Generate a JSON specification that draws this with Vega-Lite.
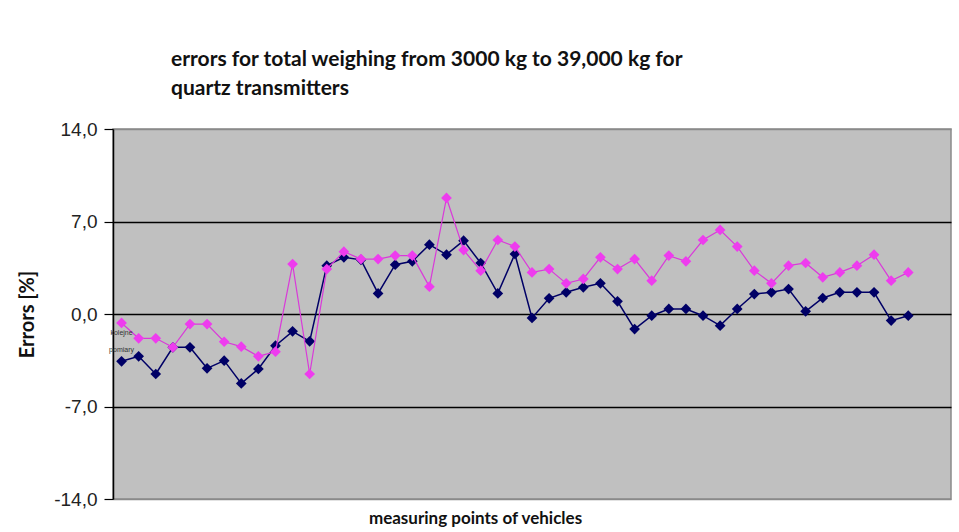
{
  "$schema": "https://vega.github.io/schema/vega-lite/v6.json",
  "width": 838,
  "height": 370,
  "autosize": {"type": "none"},
  "padding": {"left": 113, "top": 129, "right": 8, "bottom": 33},
  "background": "white",
  "title": {
    "text": ["errors for total weighing from 3000 kg to 39,000 kg for", "quartz transmitters"],
    "anchor": "start",
    "frame": "group",
    "font": "Lato",
    "fontWeight": "bold",
    "fontSize": 21,
    "lineHeight": 29,
    "color": "#111",
    "dx": 58,
    "offset": 21
  },
  "config": {
    "view": {"fill": "#c0c0c0", "stroke": "#8a8a8a", "strokeWidth": 1.5}
  },
  "datasets": {
    "pts": [
      {"i": 1, "s": "navy", "v": -3.58}, {"i": 2, "s": "navy", "v": -3.2}, {"i": 3, "s": "navy", "v": -4.54},
      {"i": 4, "s": "navy", "v": -2.52}, {"i": 5, "s": "navy", "v": -2.52}, {"i": 6, "s": "navy", "v": -4.11},
      {"i": 7, "s": "navy", "v": -3.53}, {"i": 8, "s": "navy", "v": -5.25}, {"i": 9, "s": "navy", "v": -4.16},
      {"i": 10, "s": "navy", "v": -2.4}, {"i": 11, "s": "navy", "v": -1.31}, {"i": 12, "s": "navy", "v": -2.07},
      {"i": 13, "s": "navy", "v": 3.66}, {"i": 14, "s": "navy", "v": 4.29}, {"i": 15, "s": "navy", "v": 4.1},
      {"i": 16, "s": "navy", "v": 1.56}, {"i": 17, "s": "navy", "v": 3.73}, {"i": 18, "s": "navy", "v": 3.99},
      {"i": 19, "s": "navy", "v": 5.25}, {"i": 20, "s": "navy", "v": 4.49}, {"i": 21, "s": "navy", "v": 5.55},
      {"i": 22, "s": "navy", "v": 3.86}, {"i": 23, "s": "navy", "v": 1.56}, {"i": 24, "s": "navy", "v": 4.54},
      {"i": 25, "s": "navy", "v": -0.3}, {"i": 26, "s": "navy", "v": 1.19}, {"i": 27, "s": "navy", "v": 1.64},
      {"i": 28, "s": "navy", "v": 2.02}, {"i": 29, "s": "navy", "v": 2.32}, {"i": 30, "s": "navy", "v": 0.96},
      {"i": 31, "s": "navy", "v": -1.14}, {"i": 32, "s": "navy", "v": -0.13}, {"i": 33, "s": "navy", "v": 0.38},
      {"i": 34, "s": "navy", "v": 0.38}, {"i": 35, "s": "navy", "v": -0.13}, {"i": 36, "s": "navy", "v": -0.88},
      {"i": 37, "s": "navy", "v": 0.38}, {"i": 38, "s": "navy", "v": 1.51}, {"i": 39, "s": "navy", "v": 1.64},
      {"i": 40, "s": "navy", "v": 1.89}, {"i": 41, "s": "navy", "v": 0.2}, {"i": 42, "s": "navy", "v": 1.21},
      {"i": 43, "s": "navy", "v": 1.64}, {"i": 44, "s": "navy", "v": 1.64}, {"i": 45, "s": "navy", "v": 1.64},
      {"i": 46, "s": "navy", "v": -0.5}, {"i": 47, "s": "navy", "v": -0.13},
      {"i": 1, "s": "magenta", "v": -0.68}, {"i": 2, "s": "magenta", "v": -1.84}, {"i": 3, "s": "magenta", "v": -1.84},
      {"i": 4, "s": "magenta", "v": -2.52}, {"i": 5, "s": "magenta", "v": -0.76}, {"i": 6, "s": "magenta", "v": -0.76},
      {"i": 7, "s": "magenta", "v": -2.1}, {"i": 8, "s": "magenta", "v": -2.47}, {"i": 9, "s": "magenta", "v": -3.2},
      {"i": 10, "s": "magenta", "v": -2.85}, {"i": 11, "s": "magenta", "v": 3.78}, {"i": 12, "s": "magenta", "v": -4.54},
      {"i": 13, "s": "magenta", "v": 3.4}, {"i": 14, "s": "magenta", "v": 4.72}, {"i": 15, "s": "magenta", "v": 4.16},
      {"i": 16, "s": "magenta", "v": 4.16}, {"i": 17, "s": "magenta", "v": 4.42}, {"i": 18, "s": "magenta", "v": 4.42},
      {"i": 19, "s": "magenta", "v": 2.07}, {"i": 20, "s": "magenta", "v": 8.78}, {"i": 21, "s": "magenta", "v": 4.84},
      {"i": 22, "s": "magenta", "v": 3.28}, {"i": 23, "s": "magenta", "v": 5.6}, {"i": 24, "s": "magenta", "v": 5.1},
      {"i": 25, "s": "magenta", "v": 3.15}, {"i": 26, "s": "magenta", "v": 3.4}, {"i": 27, "s": "magenta", "v": 2.32},
      {"i": 28, "s": "magenta", "v": 2.65}, {"i": 29, "s": "magenta", "v": 4.29}, {"i": 30, "s": "magenta", "v": 3.4},
      {"i": 31, "s": "magenta", "v": 4.16}, {"i": 32, "s": "magenta", "v": 2.52}, {"i": 33, "s": "magenta", "v": 4.42},
      {"i": 34, "s": "magenta", "v": 3.99}, {"i": 35, "s": "magenta", "v": 5.6}, {"i": 36, "s": "magenta", "v": 6.36},
      {"i": 37, "s": "magenta", "v": 5.1}, {"i": 38, "s": "magenta", "v": 3.28}, {"i": 39, "s": "magenta", "v": 2.32},
      {"i": 40, "s": "magenta", "v": 3.66}, {"i": 41, "s": "magenta", "v": 3.86}, {"i": 42, "s": "magenta", "v": 2.78},
      {"i": 43, "s": "magenta", "v": 3.15}, {"i": 44, "s": "magenta", "v": 3.66}, {"i": 45, "s": "magenta", "v": 4.49},
      {"i": 46, "s": "magenta", "v": 2.52}, {"i": 47, "s": "magenta", "v": 3.15}
    ],
    "note": [{"i": 1, "v": -1.4, "t": "kolejne"}, {"i": 1, "v": -2.7, "t": "pomiary"}]
  },
  "encoding": {
    "x": {
      "field": "i", "type": "quantitative",
      "scale": {"domain": [0.5, 49.5], "nice": false, "zero": false},
      "axis": {
        "labels": false, "ticks": false, "domain": false, "grid": false,
        "title": "measuring points of vehicles",
        "titleFont": "Lato", "titleFontWeight": "bold", "titleFontSize": 17, "titleColor": "#111",
        "titleX": 362, "titleY": 24, "titleBaseline": "alphabetic", "titleAlign": "center"
      }
    },
    "y": {
      "field": "v", "type": "quantitative",
      "scale": {"domain": [-14, 14], "nice": false, "zero": false},
      "axis": {
        "values": [-14, -7, 0, 7, 14],
        "labelExpr": "replace(replace(format(datum.value, '.1f'), '.', ','), '\u2212', '-')",
        "labelFont": "Liberation Sans", "labelFontSize": 19, "labelColor": "#222",
        "labelPadding": 7, "tickSize": 9, "tickColor": "#000", "tickWidth": 1.2,
        "domainColor": "#000", "domainWidth": 1.5,
        "grid": true,
        "gridColor": {"condition": {"test": "abs(datum.value) == 14", "value": "#8a8a8a"}, "value": "#000"},
        "gridWidth": 1.5, "gridOpacity": 1,
        "title": "Errors [%]",
        "titleFont": "Lato", "titleFontWeight": "bold", "titleFontSize": 20, "titleColor": "#111",
        "titleAngle": -90, "titleX": -76, "titleY": 185, "titleAlign": "center", "titleBaseline": "bottom"
      }
    }
  },
  "layer": [
    {
      "data": {"name": "pts"},
      "transform": [{"filter": "datum.s == 'navy'"}],
      "mark": {"type": "line", "color": "#000066", "strokeWidth": 1.5},
      "encoding": {}
    },
    {
      "data": {"name": "pts"},
      "transform": [{"filter": "datum.s == 'navy'"}],
      "mark": {"type": "point", "shape": "diamond", "filled": true, "size": 115, "color": "#000066", "opacity": 1},
      "encoding": {}
    },
    {
      "data": {"name": "pts"},
      "transform": [{"filter": "datum.s == 'magenta'"}],
      "mark": {"type": "line", "color": "#d93ad9", "strokeWidth": 1.2},
      "encoding": {}
    },
    {
      "data": {"name": "pts"},
      "transform": [{"filter": "datum.s == 'magenta'"}],
      "mark": {"type": "point", "shape": "diamond", "filled": true, "size": 115, "color": "#ee3cee", "opacity": 1},
      "encoding": {}
    },
    {
      "data": {"name": "note"},
      "mark": {"type": "text", "font": "Liberation Sans", "fontSize": 7, "color": "#333", "align": "center", "baseline": "middle", "clip": false},
      "encoding": {"text": {"field": "t"}}
    }
  ]
}
